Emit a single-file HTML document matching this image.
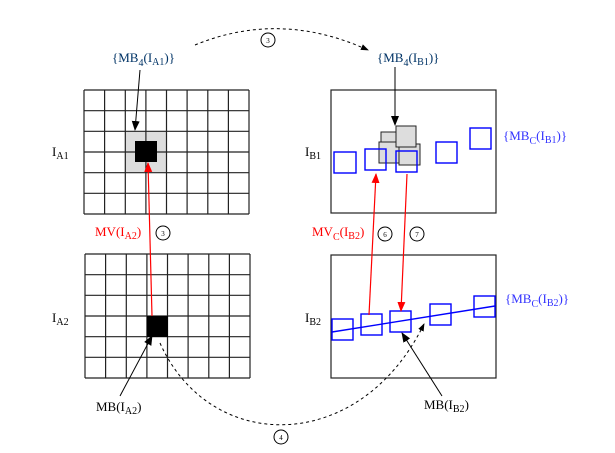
<!DOCTYPE html>
<html><head><meta charset="utf-8"><style>
body{margin:0;background:#fff}
svg{display:block}
text{font-family:"Liberation Serif",serif;font-size:13px}
</style></head><body>
<svg width="615" height="453" viewBox="0 0 615 453">
<defs>
<marker id="ab" markerWidth="10" markerHeight="10" refX="9" refY="5" orient="auto" markerUnits="userSpaceOnUse"><path d="M0,1 L10,5 L0,9 z" fill="#000"/></marker>
<marker id="ar" markerWidth="10" markerHeight="10" refX="9" refY="5" orient="auto" markerUnits="userSpaceOnUse"><path d="M0,1 L10,5 L0,9 z" fill="#f00"/></marker>
<marker id="as" markerWidth="8" markerHeight="8" refX="7" refY="4" orient="auto" markerUnits="userSpaceOnUse"><path d="M0,1 L8,4 L0,7 z" fill="#000"/></marker>
</defs>
<rect x="125" y="131" width="41" height="41" fill="#ddd"/>
<g stroke="#222" stroke-width="1.2" fill="none">
<path d="M84,90H249M84,110.7H249M84,131.3H249M84,152H249M84,172.7H249M84,193.3H249M84,214H249"/>
<path d="M84,90V214M104.6,90V214M125.3,90V214M145.9,90V214M166.5,90V214M187.1,90V214M207.8,90V214M228.4,90V214M249,90V214"/>
</g>
<rect x="135" y="141" width="22" height="21" fill="#000"/>
<g stroke="#222" stroke-width="1.2" fill="none">
<path d="M85,254H250M85,274.7H250M85,295.3H250M85,316H250M85,336.7H250M85,357.3H250M85,378H250"/>
<path d="M85,254V378M105.6,254V378M126.3,254V378M146.9,254V378M167.5,254V378M188.1,254V378M208.8,254V378M229.4,254V378M250,254V378"/>
</g>
<rect x="147" y="316" width="21" height="21" fill="#000"/>
<rect x="331" y="90" width="165" height="123" fill="none" stroke="#222" stroke-width="1.2"/>
<rect x="331" y="255" width="165" height="123" fill="none" stroke="#222" stroke-width="1.2"/>
<g fill="#ddd" stroke="#222" stroke-width="1">
<rect x="381" y="132" width="15" height="11"/>
<rect x="379" y="142" width="21" height="21"/>
<rect x="399" y="144" width="21" height="21"/>
<rect x="396" y="126" width="20" height="21"/>
</g>
<g fill="none" stroke="#00f" stroke-width="1.4">
<rect x="334" y="152" width="22" height="21"/>
<rect x="365" y="149" width="21" height="21"/>
<rect x="396" y="151" width="21" height="21"/>
<rect x="436" y="142" width="21" height="21"/>
<rect x="470" y="128" width="21" height="21"/>
<rect x="332" y="319" width="21" height="21"/>
<rect x="361" y="314" width="21" height="21"/>
<rect x="390" y="311" width="21" height="21"/>
<rect x="430" y="304" width="21" height="21"/>
<rect x="474" y="296" width="21" height="21"/>
<path d="M332,332L495,306"/>
</g>
<g stroke="#000" stroke-width="1" fill="none">
<path d="M140,70L135,130" marker-end="url(#ab)"/>
<path d="M395,67L395,125" marker-end="url(#ab)"/>
<path d="M120,396L152,336" marker-end="url(#ab)"/>
<path d="M442,396L402,333" marker-end="url(#ab)"/>
<path d="M195,45Q280,10 368,50" stroke-dasharray="3,3" marker-end="url(#as)"/>
<path d="M160,343C210,455 360,455 424,324" stroke-dasharray="3,3" marker-end="url(#as)"/>
</g>
<g stroke="#f00" stroke-width="1.2" fill="none">
<path d="M152,316L148,163" marker-end="url(#ar)"/>
<path d="M369,315L376,174" marker-end="url(#ar)"/>
<path d="M407,174L401,311" marker-end="url(#ar)"/>
</g>
<g fill="#fff" stroke="#000" stroke-width="1">
<circle cx="268" cy="40" r="7"/><circle cx="163" cy="233" r="7"/>
<circle cx="385" cy="234" r="7"/><circle cx="417" cy="234" r="7"/>
<circle cx="281" cy="437" r="7"/>
</g>
<g text-anchor="middle">
<text x="268" y="43" style="font-size:7px">3</text><text x="163" y="236" style="font-size:7px">3</text>
<text x="385" y="237" style="font-size:7px">6</text><text x="417" y="237" style="font-size:7px">7</text>
<text x="281" y="440" style="font-size:7px">4</text>
</g>
<text x="112" y="62" fill="#036">{MB<tspan dy="4" style="font-size:10px">4</tspan><tspan dy="-4">(I</tspan><tspan dy="3" style="font-size:10px">A1</tspan><tspan dy="-3">)}</tspan></text>
<text x="377" y="62" fill="#036">{MB<tspan dy="4" style="font-size:10px">4</tspan><tspan dy="-4">(I</tspan><tspan dy="3" style="font-size:10px">B1</tspan><tspan dy="-3">)}</tspan></text>
<text x="52" y="156">I<tspan dy="3" style="font-size:10px">A1</tspan></text>
<text x="52" y="322">I<tspan dy="3" style="font-size:10px">A2</tspan></text>
<text x="305" y="156">I<tspan dy="3" style="font-size:10px">B1</tspan></text>
<text x="305" y="322">I<tspan dy="3" style="font-size:10px">B2</tspan></text>
<text x="95" y="236" fill="#f00">MV(I<tspan dy="3" style="font-size:10px">A2</tspan><tspan dy="-3">)</tspan></text>
<text x="312" y="236" fill="#f00">MV<tspan dy="4" style="font-size:10px">C</tspan><tspan dy="-4">(I</tspan><tspan dy="3" style="font-size:10px">B2</tspan><tspan dy="-3">)</tspan></text>
<text x="503" y="140" fill="#33f">{MB<tspan dy="4" style="font-size:10px">C</tspan><tspan dy="-4">(I</tspan><tspan dy="3" style="font-size:10px">B1</tspan><tspan dy="-3">)}</tspan></text>
<text x="505" y="303" fill="#33f">{MB<tspan dy="4" style="font-size:10px">C</tspan><tspan dy="-4">(I</tspan><tspan dy="3" style="font-size:10px">B2</tspan><tspan dy="-3">)}</tspan></text>
<text x="96" y="411">MB(I<tspan dy="3" style="font-size:10px">A2</tspan><tspan dy="-3">)</tspan></text>
<text x="424" y="409">MB(I<tspan dy="3" style="font-size:10px">B2</tspan><tspan dy="-3">)</tspan></text>
</svg>
</body></html>
